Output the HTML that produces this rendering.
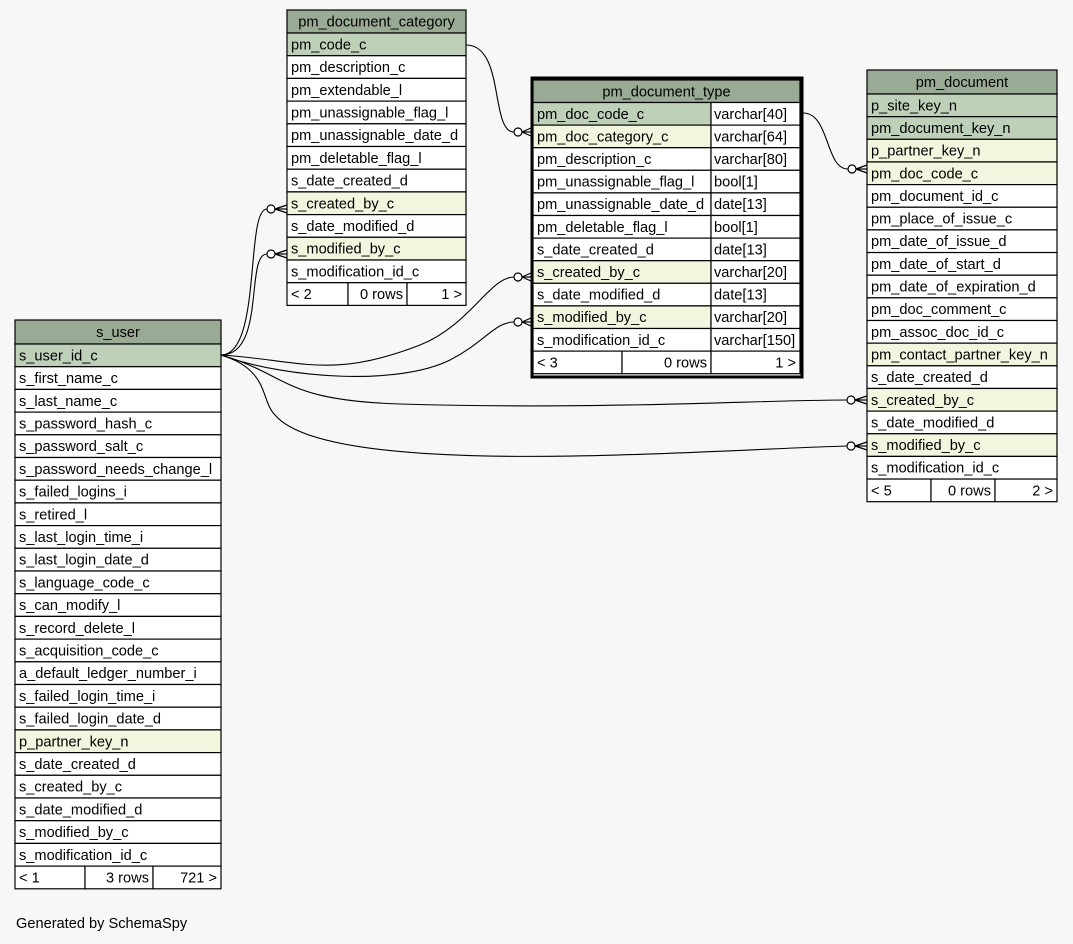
<!DOCTYPE html>
<html><head><meta charset="utf-8">
<style>
html,body{margin:0;padding:0;background:#f7f7f7;}
svg{display:block;font-family:"Liberation Sans",Arial,sans-serif;font-size:14.6px;}
</style></head>
<body>
<svg id="s" width="1073" height="944" xmlns="http://www.w3.org/2000/svg">
<rect width="1073" height="944" fill="#f7f7f7"/>
<g fill="none" stroke="#000" stroke-width="1.1">
<path d="M466,45 C505,45 490,132 514,132"/>
<path d="M221,355 C262,355 245,209 267,209"/>
<path d="M221,355 C266,355 245,254 267,254"/>
<path d="M221,355 C300,360 330,380 420,345 C470,325 490,277 514,277"/>
<path d="M221,355 C290,380 400,385 450,360 C485,342 495,322 514,322"/>
<path d="M221,355 C290,375 280,400 400,404 C600,410 760,400 847,400"/>
<path d="M221,355 C270,370 260,400 275,415 C330,480 700,450 847,446"/>
<path d="M803,113 C830,113 825,169 848,169"/>
</g>
<g fill="#fff" stroke="#000" stroke-width="1.2">
<circle cx="518" cy="132" r="4"/>
<circle cx="271" cy="209" r="4"/>
<circle cx="271" cy="254" r="4"/>
<circle cx="518" cy="277" r="4"/>
<circle cx="518" cy="322" r="4"/>
<circle cx="851" cy="400" r="4"/>
<circle cx="851" cy="446" r="4"/>
<circle cx="852" cy="169" r="4"/>
</g>
<g id="feet" stroke="#000" stroke-width="1.2"></g>
<g id="t"></g>
<text x="16" y="928" fill="#000">Generated by SchemaSpy</text>
</svg>
<script>
const NS="http://www.w3.org/2000/svg";
const t=document.getElementById('t');
const HDR="#9aab95",KEY="#bfd0b9",FK="#f3f6de",W="#fff";
function rect(x,y,w,h,f){const r=document.createElementNS(NS,'rect');r.setAttribute('x',x);r.setAttribute('y',y);r.setAttribute('width',w);r.setAttribute('height',h);r.setAttribute('fill',f);r.setAttribute('stroke','#000');r.setAttribute('stroke-width','1.2');t.appendChild(r);}
function txt(x,y,s,a){const e=document.createElementNS(NS,'text');e.setAttribute('x',x);e.setAttribute('y',y);if(a)e.setAttribute('text-anchor',a);e.textContent=s;t.appendChild(e);}
function table(x,y,w,hh,rh,name,rows,foot,typeX,types,fx){
 rect(x,y,w,hh,HDR);txt(x+w/2,y+hh/2+5,name,'middle');
 let cy=y+hh;
 rows.forEach((r,i)=>{const f=r[1]=='k'?KEY:r[1]=='f'?FK:W;
  if(typeX){rect(x,cy,typeX-x,rh,f);rect(typeX,cy,x+w-typeX,rh,W);txt(typeX+3,cy+rh/2+5,types[i]);}
  else rect(x,cy,w,rh,f);
  txt(x+4,cy+rh/2+5,r[0]);cy+=rh;});
 rect(x,cy,fx[0]-x,rh,W);rect(fx[0],cy,fx[1]-fx[0],rh,W);rect(fx[1],cy,x+w-fx[1],rh,W);
 txt(x+4,cy+rh/2+5,foot[0]);txt(fx[1]-4,cy+rh/2+5,foot[1],'end');txt(x+w-4,cy+rh/2+5,foot[2],'end');
}
function R(s){return s.split(',').map(v=>{const p=v.split(':');return [p[0],p[1]||''];});}
table(287,10,179,23,22.7,'pm_document_category',R('pm_code_c:k,pm_description_c,pm_extendable_l,pm_unassignable_flag_l,pm_unassignable_date_d,pm_deletable_flag_l,s_date_created_d,s_created_by_c:f,s_date_modified_d,s_modified_by_c:f,s_modification_id_c'),['< 2','0 rows','1 >'],0,null,[348,407]);
(function(){const r=document.createElementNS(NS,'rect');r.setAttribute('x',532);r.setAttribute('y',78);r.setAttribute('width',270);r.setAttribute('height',299);r.setAttribute('fill','none');r.setAttribute('stroke','#000');r.setAttribute('stroke-width','3');t.appendChild(r);})();
table(533,80,267,22.5,22.6,'pm_document_type',R('pm_doc_code_c:k,pm_doc_category_c:f,pm_description_c,pm_unassignable_flag_l,pm_unassignable_date_d,pm_deletable_flag_l,s_date_created_d,s_created_by_c:f,s_date_modified_d,s_modified_by_c:f,s_modification_id_c'),['< 3','0 rows','1 >'],711,['varchar[40]','varchar[64]','varchar[80]','bool[1]','date[13]','bool[1]','date[13]','varchar[20]','date[13]','varchar[20]','varchar[150]'],[622,711]);
table(867,70,190,24,22.65,'pm_document',R('p_site_key_n:k,pm_document_key_n:k,p_partner_key_n:f,pm_doc_code_c:f,pm_document_id_c,pm_place_of_issue_c,pm_date_of_issue_d,pm_date_of_start_d,pm_date_of_expiration_d,pm_doc_comment_c,pm_assoc_doc_id_c,pm_contact_partner_key_n:f,s_date_created_d,s_created_by_c:f,s_date_modified_d,s_modified_by_c:f,s_modification_id_c'),['< 5','0 rows','2 >'],0,null,[931,995]);
table(15,320,206,24,22.7,'s_user',R('s_user_id_c:k,s_first_name_c,s_last_name_c,s_password_hash_c,s_password_salt_c,s_password_needs_change_l,s_failed_logins_i,s_retired_l,s_last_login_time_i,s_last_login_date_d,s_language_code_c,s_can_modify_l,s_record_delete_l,s_acquisition_code_c,a_default_ledger_number_i,s_failed_login_time_i,s_failed_login_date_d,p_partner_key_n:f,s_date_created_d,s_created_by_c,s_date_modified_d,s_modified_by_c,s_modification_id_c'),['< 1','3 rows','721 >'],0,null,[85,153]);
const feet=document.getElementById('feet');
[[522,132,531],[275,209,287],[275,254,287],[522,277,531],[522,322,531],[855,400,867],[855,446,867],[856,169,867]].forEach(([x1,y,x2])=>{
 [-4,0,4].forEach(d=>{const l=document.createElementNS(NS,'line');l.setAttribute('x1',x1);l.setAttribute('y1',y);l.setAttribute('x2',x2);l.setAttribute('y2',y+d);feet.appendChild(l);});
});
</script>
</body></html>
